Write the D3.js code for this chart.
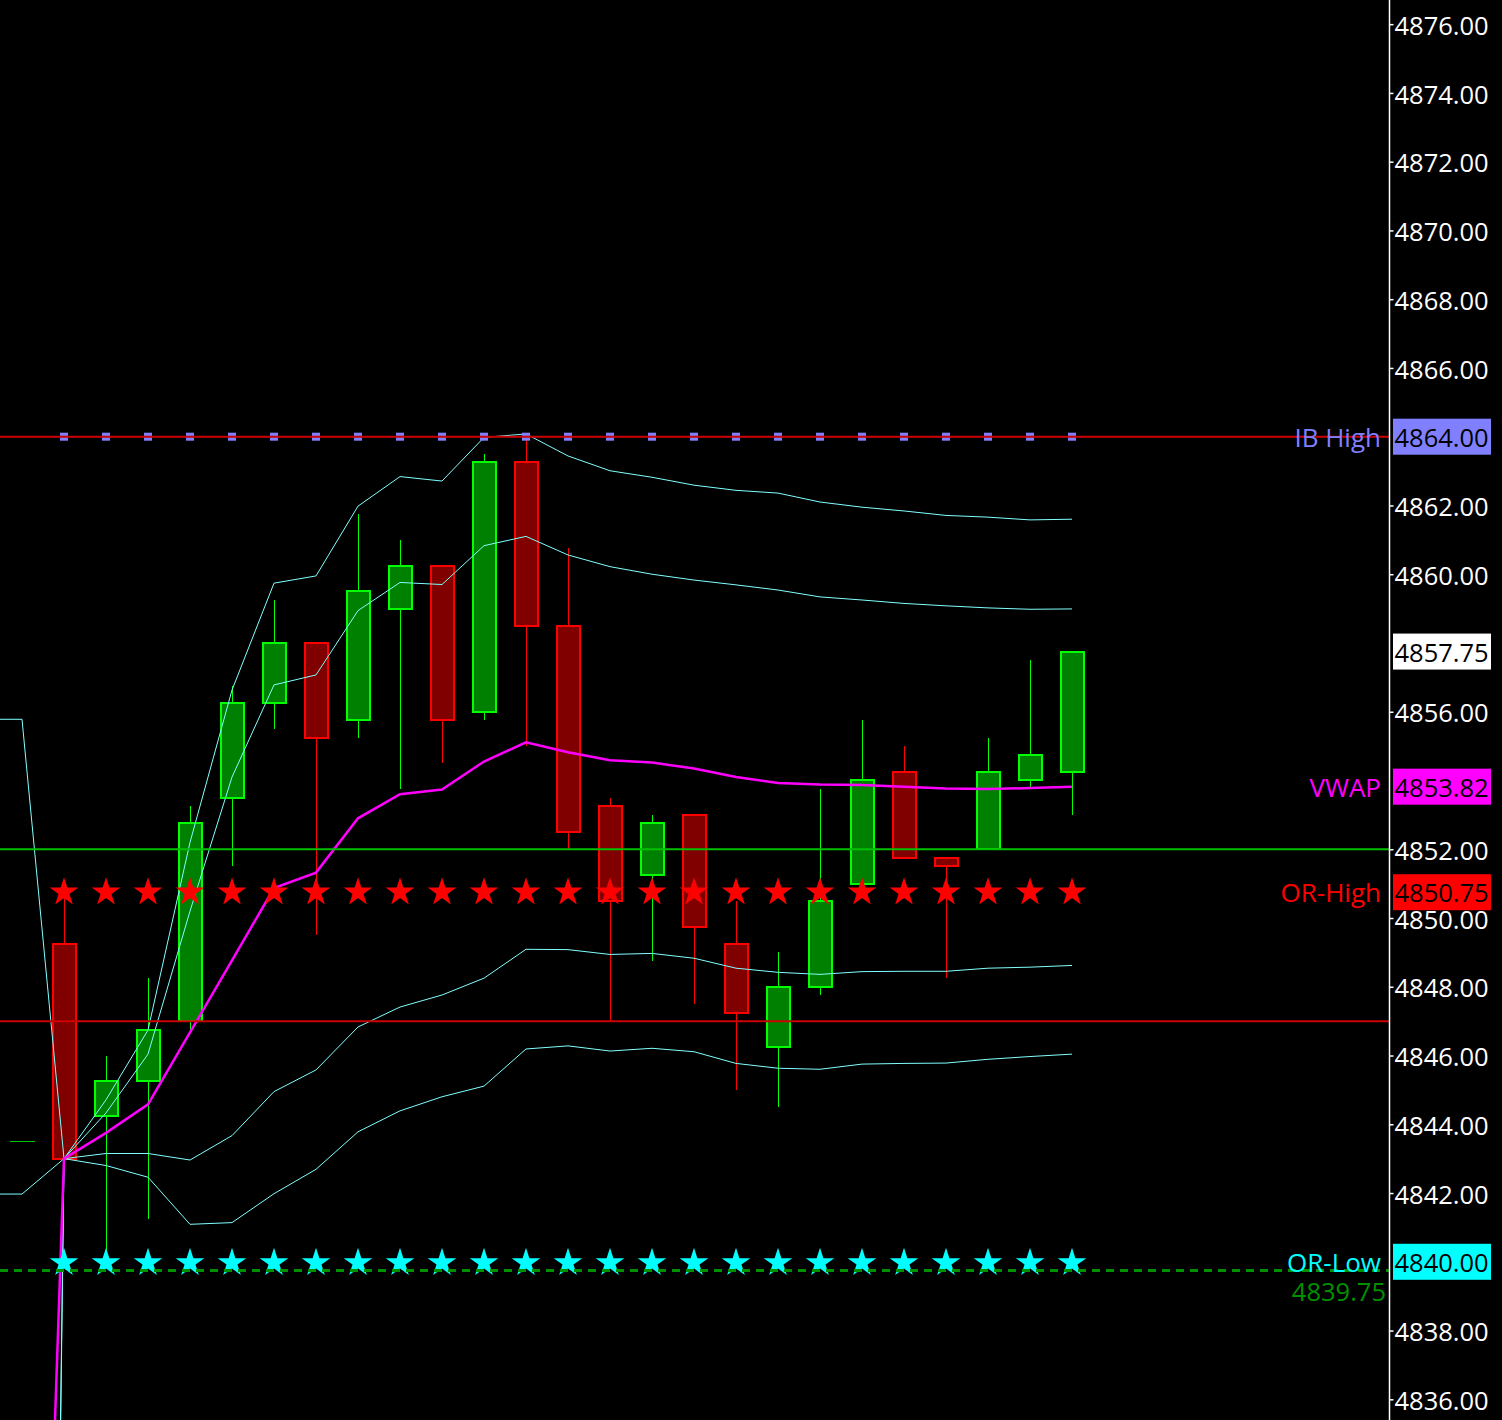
<!DOCTYPE html>
<html>
<head>
<meta charset="utf-8">
<script src="https://cdn.jsdelivr.net/npm/d3@7"></script>
<style>
  html, body { margin: 0; padding: 0; background: #000; }
  #chart { width: 1502px; height: 1420px; }
  text { font-family: 'Open Sans', 'Noto Sans', sans-serif; }
</style>
</head>
<body>
<div id="chart"></div>
<script>
// Price chart (candles + VWAP bands) for ES session

// bar 0 is off-screen left, bar 1 is last bar of the prior session
const opens  = [null, 4843.5, 4849.25, 4844.25, 4845.25, 4847.0, 4853.5, 4856.25, 4858.0, 4855.75, 4859.0,
  4860.25, 4856.0, 4863.25, 4858.5, 4853.25, 4851.25, 4853.0, 4849.25, 4846.25, 4848.0,
  4851.0, 4854.25, 4851.75, 4852.0, 4854.0, 4854.25];
const highs  = [null, 4843.5, 4851.0, 4846.0, 4848.25, 4853.25, 4856.75, 4859.25, 4858.0, 4861.75, 4861.0,
  4860.25, 4863.5, 4864.0, 4860.75, 4853.5, 4853.0, 4853.0, 4850.5, 4849.0, 4853.75,
  4855.75, 4855.0, 4851.75, 4855.25, 4857.5, 4857.75];
const lows   = [null, 4843.5, 4843.0, 4840.25, 4841.25, 4846.75, 4851.5, 4855.5, 4849.5, 4855.25, 4853.75,
  4854.5, 4855.75, 4855.0, 4852.0, 4847.0, 4848.75, 4847.5, 4845.0, 4844.5, 4847.75,
  4850.75, 4851.75, 4848.25, 4852.0, 4853.75, 4853.0];
const closes = [null, 4843.5, 4843.0, 4845.25, 4846.75, 4852.75, 4856.25, 4858.0, 4855.25, 4859.5, 4860.25,
  4855.75, 4863.25, 4858.5, 4852.5, 4850.5, 4852.75, 4849.75, 4847.25, 4848.0, 4850.5,
  4854.0, 4851.75, 4851.5, 4854.25, 4854.75, 4857.75];

const vwap   = [4807.5, 4807.5, 4843.0, 4843.75, 4844.58, 4846.67, 4848.77, 4850.87, 4851.32, 4852.9, 4853.6,
  4853.74, 4854.55, 4855.11, 4854.82, 4854.59, 4854.52, 4854.35, 4854.1, 4853.93, 4853.88,
  4853.87, 4853.82, 4853.77, 4853.75, 4853.78, 4853.82];
const upper2 = [4855.78, 4855.78, 4843.0, 4844.71, 4846.74, 4852.2, 4856.63, 4859.74, 4859.95, 4861.98, 4862.84,
  4862.71, 4863.98, 4864.08, 4863.44, 4863.01, 4862.82, 4862.59, 4862.44, 4862.36, 4862.1,
  4861.95, 4861.84, 4861.71, 4861.66, 4861.58, 4861.6];
const upper1 = [4752.0, 4752.0, 4843.0, 4844.33, 4846.04, 4850.2, 4854.1, 4856.78, 4857.07, 4858.94, 4859.76,
  4859.7, 4860.83, 4861.1, 4860.56, 4860.22, 4860.0, 4859.83, 4859.69, 4859.54, 4859.34,
  4859.25, 4859.15, 4859.08, 4859.02, 4858.98, 4858.99];
const lower1 = [4745.0, 4745.0, 4843.0, 4843.15, 4843.15, 4842.96, 4843.67, 4844.95, 4845.58, 4846.83, 4847.41,
  4847.76, 4848.25, 4849.09, 4849.08, 4848.94, 4848.97, 4848.83, 4848.54, 4848.42, 4848.36,
  4848.44, 4848.45, 4848.45, 4848.54, 4848.57, 4848.62];
const lower2 = [4841.97, 4841.97, 4843.0, 4842.8, 4842.46, 4841.09, 4841.14, 4841.98, 4842.69, 4843.78, 4844.39,
  4844.8, 4845.11, 4846.19, 4846.28, 4846.13, 4846.21, 4846.11, 4845.77, 4845.63, 4845.6,
  4845.75, 4845.77, 4845.78, 4845.89, 4845.97, 4846.04];

const sessionStart = 2;
const ibHigh = 4864.00;
const orHigh = 4850.75;
const orLow = 4840.00;
const lastPrice = 4857.75;
const vwapLast = 4853.82;
const greenLevel = 4852.00;
const redLevel = 4847.00;
const dashedLevel = 4839.75;

const tickValues = [4876, 4874, 4872, 4870, 4868, 4866, 4862, 4860, 4856, 4852, 4850,
  4848, 4846, 4844, 4842, 4838, 4836];

const W = 1502, H = 1420, plotRight = 1389;

const svg = d3.select('#chart').append('svg')
  .attr('width', W).attr('height', H)
  .style('background', '#000');

svg.append('defs').append('clipPath').attr('id', 'plot-clip')
  .append('rect').attr('x', 0).attr('y', 0).attr('width', plotRight).attr('height', H);

const x = d3.scaleLinear().domain([0, closes.length - 1]).range([-20, -20 + 42 * (closes.length - 1)]);
const y = d3.scaleLinear().domain([4836, 4864]).range([1399.3, 436.7]);

const plot = svg.append('g').attr('clip-path', 'url(#plot-clip)');

// Candles
const bars = d3.range(closes.length)
  .filter(i => closes[i] !== null)
  .map(i => ({i, o: opens[i], h: highs[i], l: lows[i], c: closes[i]}));

const candles = plot.append('g').attr('shape-rendering', 'crispEdges');
const up = d => d.c >= d.o;
const doji = d => d.o === d.c;

candles.selectAll('.wick')
  .data(bars.filter(d => d.h > d.l))
  .enter().append('line')
  .attr('x1', d => x(d.i) + 0.5).attr('x2', d => x(d.i) + 0.5)
  .attr('y1', d => y(d.h)).attr('y2', d => y(d.l))
  .attr('stroke', d => up(d) ? '#00ff00' : '#ff0000')
  .attr('stroke-width', 1);

candles.selectAll('.body')
  .data(bars.filter(d => !doji(d)))
  .enter().append('rect')
  .attr('x', d => x(d.i) - 11)
  .attr('width', 23)
  .attr('y', d => y(Math.max(d.o, d.c)))
  .attr('height', d => Math.abs(y(d.o) - y(d.c)))
  .attr('fill', d => up(d) ? '#008000' : '#800000')
  .attr('stroke', d => up(d) ? '#00ff00' : '#ff0000')
  .attr('stroke-width', 2);

// open == close: flat dash
candles.selectAll('.doji')
  .data(bars.filter(doji))
  .enter().append('line')
  .attr('x1', d => x(d.i) - 12).attr('x2', d => x(d.i) + 13)
  .attr('y1', d => y(d.c)).attr('y2', d => y(d.c))
  .attr('stroke', '#00c800')
  .attr('stroke-width', 1);

// VWAP bands
const line = arr => d3.line()
  .x((d, i) => x(i))
  .y(d => y(d))(arr);

[upper2, upper1, lower1, lower2].forEach(arr => {
  plot.append('path')
    .attr('d', line(arr))
    .attr('fill', 'none')
    .attr('stroke', '#80ffff')
    .attr('stroke-width', 1);
});

plot.append('path')
  .attr('d', line(vwap))
  .attr('fill', 'none')
  .attr('stroke', '#ff00ff')
  .attr('stroke-width', 2.5);

// Session markers
const markerIdx = d3.range(sessionStart, closes.length);

plot.selectAll('.ib')
  .data(markerIdx)
  .enter().append('rect')
  .attr('x', i => x(i) - 4)
  .attr('y', y(ibHigh) - 4)
  .attr('width', 8).attr('height', 8)
  .attr('fill', '#8080ff');

// Horizontal levels
const hline = (v, color, width, dash) => {
  plot.append('line')
    .attr('x1', 0).attr('x2', plotRight)
    .attr('y1', y(v)).attr('y2', y(v))
    .attr('stroke', color)
    .attr('stroke-width', width)
    .attr('stroke-dasharray', dash || null);
};
hline(ibHigh, '#cc0000', 2);
hline(greenLevel, '#00c000', 2);
hline(redLevel, '#cc0000', 2);

const star = d3.symbol().type(d3.symbolStar).size(255);

plot.selectAll('.orh')
  .data(markerIdx)
  .enter().append('path')
  .attr('d', star)
  .attr('transform', i => `translate(${x(i)},${y(orHigh)})`)
  .attr('fill', '#ff0000');

plot.selectAll('.orl')
  .data(markerIdx)
  .enter().append('path')
  .attr('d', star)
  .attr('transform', i => `translate(${x(i)},${y(orLow) + 1})`)
  .attr('fill', '#00ffff');

hline(dashedLevel, '#009000', 3, '8,6');

// Level labels
const levelLabels = [
  {text: 'IB High', v: ibHigh, color: '#8080ff'},
  {text: 'VWAP', v: vwapLast, color: '#ff00ff'},
  {text: 'OR-High', v: orHigh, color: '#ff0000'},
  {text: 'OR-Low', v: orLow, color: '#00ffff'}
];

svg.selectAll('.lvl')
  .data(levelLabels)
  .enter().append('text')
  .attr('x', 1381)
  .attr('y', d => y(d.v))
  .attr('dy', '0.38em')
  .attr('text-anchor', 'end')
  .style('font-size', '26px')
  .style('fill', d => d.color)
  .text(d => d.text);

svg.append('text')
  .attr('x', 1386)
  .attr('y', y(dashedLevel) + 21)
  .attr('dy', '0.38em')
  .attr('text-anchor', 'end')
  .style('font-size', '25.5px')
  .style('fill', '#009000')
  .text(d3.format('.2f')(dashedLevel));

// Price axis
const axis = svg.append('g')
  .attr('transform', `translate(${plotRight + 0.5},0)`)
  .call(d3.axisRight(y).tickValues(tickValues).tickSize(4).tickPadding(1)
    .tickFormat(d3.format('.2f')));

axis.select('.domain').remove();
axis.selectAll('.tick line').attr('stroke', '#fff').attr('stroke-width', 1.5);
axis.selectAll('.tick text')
  .attr('dy', '0.4em')
  .style('font-size', '25.5px')
  .style('font-family', "'Open Sans', 'Noto Sans', sans-serif")
  .style('fill', '#fff');

svg.append('line')
  .attr('x1', plotRight + 0.5).attr('x2', plotRight + 0.5)
  .attr('y1', 0).attr('y2', H)
  .attr('stroke', '#fff')
  .attr('stroke-width', 1.5);

// Highlighted price boxes
const priceBoxes = [
  {v: ibHigh, bg: '#8080ff'},
  {v: lastPrice, bg: '#ffffff'},
  {v: vwapLast, bg: '#ff00ff'},
  {v: orHigh, bg: '#ff0000'},
  {v: orLow, bg: '#00ffff'}
];

const boxes = svg.selectAll('.pbox')
  .data(priceBoxes)
  .enter().append('g')
  .attr('transform', d => `translate(1393,${y(d.v)})`);

boxes.append('rect')
  .attr('x', 0).attr('y', -18)
  .attr('width', 98).attr('height', 36)
  .attr('fill', d => d.bg);

boxes.append('text')
  .attr('x', 1.5)
  .attr('dy', '0.4em')
  .style('font-size', '25.5px')
  .style('fill', '#000')
  .text(d => d3.format('.2f')(d.v));
</script>
</body>
</html>
